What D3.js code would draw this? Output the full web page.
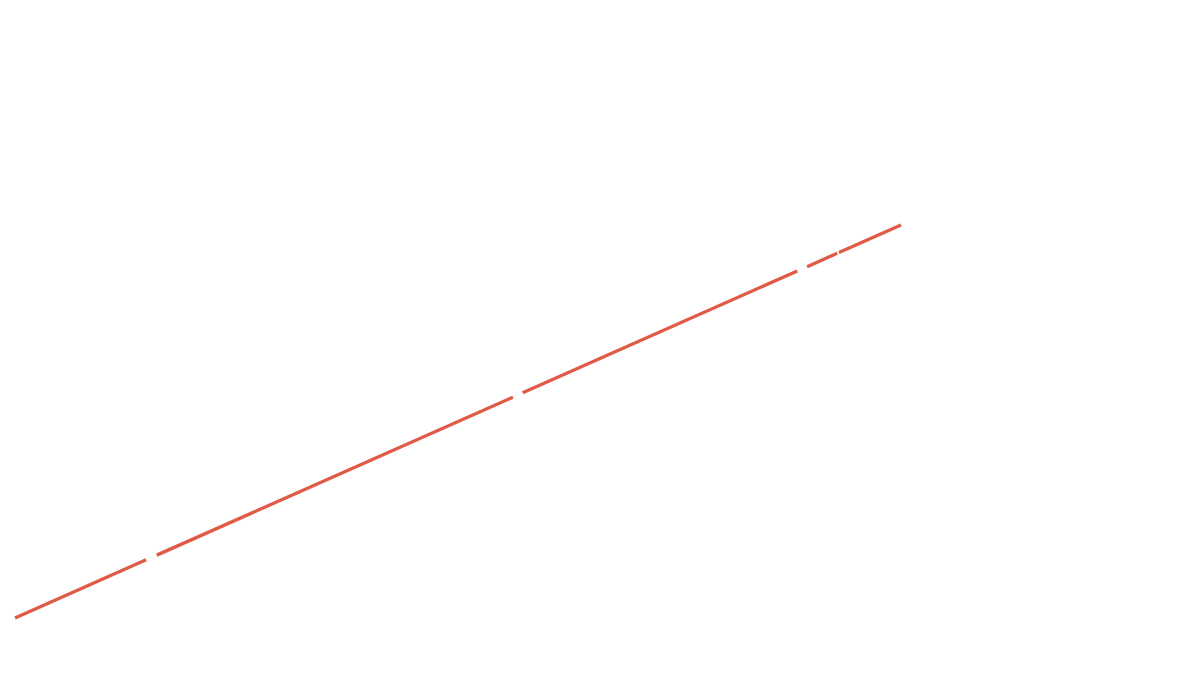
<!DOCTYPE html>
<html>
<head>
<meta charset="utf-8">
<script src="https://cdn.jsdelivr.net/npm/d3@7"></script>
<style>
  html, body { margin: 0; padding: 0; background: #fff; }
  svg { display: block; }
</style>
</head>
<body>
<svg id="chart"></svg>
<script>
// Segments of the single series (broken where values are missing)
const segStartX = [0, 16.0, 57.3, 89.4, 93.0];
const segEndX   = [14.8, 56.2, 88.3, 92.8, 100];
const segStartY = [0, 16.0, 57.3, 89.4, 93.0];
const segEndY   = [14.8, 56.2, 88.3, 92.8, 100];

const width = 1185, height = 682;
const margin = { top: 225, right: 284, bottom: 64, left: 15 };

const svg = d3.select("#chart")
  .attr("width", width)
  .attr("height", height);

const x = d3.scaleLinear()
  .domain([0, 100])
  .range([margin.left, width - margin.right]);

const y = d3.scaleLinear()
  .domain([0, 100])
  .range([height - margin.bottom, margin.top]);

const segments = segStartX.map((sx, i) => [
  { x: sx, y: segStartY[i] },
  { x: segEndX[i], y: segEndY[i] }
]);

const line = d3.line()
  .x(d => x(d.x))
  .y(d => y(d.y));

// Draw the line pieces
svg.selectAll(".seg")
  .data(segments)
  .enter().append("path")
  .attr("class", "seg")
  .attr("d", line)
  .attr("fill", "none")
  .attr("stroke", "#e05a47")
  .attr("stroke-width", 3.3)
  .attr("stroke-linecap", "butt");
</script>
</body>
</html>
